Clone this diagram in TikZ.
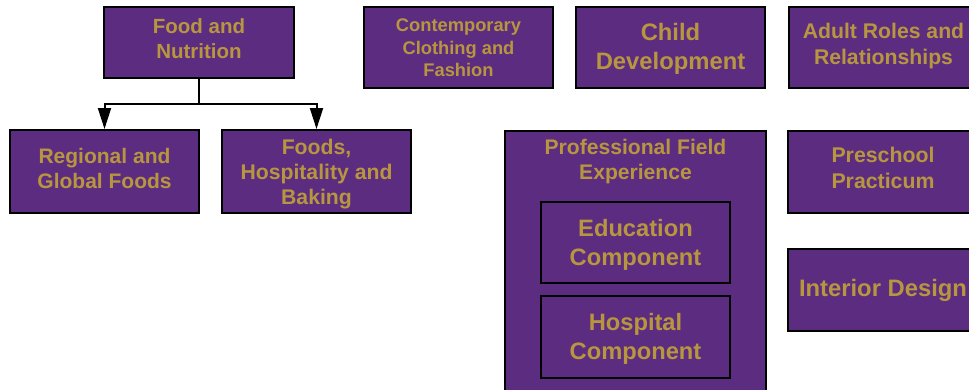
\documentclass[tikz,border=0pt]{standalone}
\usepackage{fontspec}
\setmainfont{Liberation Sans}
\usetikzlibrary{arrows.meta}
\definecolor{purp}{RGB}{91,44,127}
\definecolor{gold}{RGB}{184,150,64}
\tikzset{
  box/.style={draw=black, line width=2pt, fill=purp, inner sep=0pt, rectangle},
  lbl/.style={text=gold, align=center, inner sep=0pt},
  conn/.style={line width=2pt, -{Triangle[length=21pt,width=13pt]}},
}
\newcommand{\fs}[2]{\bfseries\fontsize{#1}{#2}\selectfont}
\begin{document}
\begin{tikzpicture}[x=1pt,y=-1pt]
\useasboundingbox (0,0) rectangle (969,389);
\clip (0,0) rectangle (969,389);
\fill[white] (0,0) rectangle (969,389);
% boxes
\node[box, minimum width=190pt, minimum height=71pt] (food) at (199,42.5) {};
\node[box, minimum width=189pt, minimum height=83pt] (regional) at (104.5,171.5) {};
\node[box, minimum width=189pt, minimum height=83pt] (foodshosp) at (316.5,171.5) {};
\node[box, minimum width=189pt, minimum height=81pt] (contemp) at (458.5,47.5) {};
\node[box, minimum width=189pt, minimum height=81pt] (child) at (670.5,47.5) {};
\node[box, minimum width=189pt, minimum height=81pt] (adult) at (883.5,47.5) {};
\node[box, minimum width=261pt, minimum height=269pt] (prof) at (635.5,265.5) {};
\node[box, minimum width=189pt, minimum height=81pt] (educ) at (635.5,242.5) {};
\node[box, minimum width=189pt, minimum height=82pt] (hosp) at (635.5,337) {};
\node[box, minimum width=190pt, minimum height=82pt] (pre) at (883,172) {};
\node[box, minimum width=190pt, minimum height=82pt] (interior) at (883,290) {};
% labels
\node[lbl, font=\fs{20.5}{25.5}] (foodT) at (199,38.5) {Food and\\Nutrition};
\node[lbl, font=\fs{21}{25.5}] (regionalT) at (104.5,168.5) {Regional and\\Global Foods};
\node[lbl, font=\fs{21.2}{25}] (foodshospT) at (316.5,174) {Foods,\\Hospitality and\\Baking};
\node[lbl, font=\fs{18.3}{22.5}] (contempT) at (458.5,48) {Contemporary\\Clothing and\\Fashion};
\node[lbl, font=\fs{23.8}{29}] (childT) at (670.5,48.5) {Child\\Development};
\node[lbl, font=\fs{21.2}{26}] (adultT) at (883.5,46) {Adult Roles and\\Relationships};
\node[lbl, font=\fs{21.1}{25.5}] (profT) at (635.5,161.5) {Professional Field\\Experience};
\node[lbl, font=\fs{23.7}{29}] (educT) at (635.5,244.5) {Education\\Component};
\node[lbl, font=\fs{23.7}{29}] (hospT) at (635.5,338.5) {Hospital\\Component};
\node[lbl, font=\fs{21.3}{26}] (preT) at (883,168) {Preschool\\Practicum};
\node[lbl, font=\fs{23.8}{28}] (interiorT) at (883,290) {Interior Design};
% connectors
\draw[conn] (food.south) -- ++(0,25) -| (regional.north);
\draw[conn] (food.south) -- ++(0,25) -| (foodshosp.north);
\end{tikzpicture}
\end{document}
